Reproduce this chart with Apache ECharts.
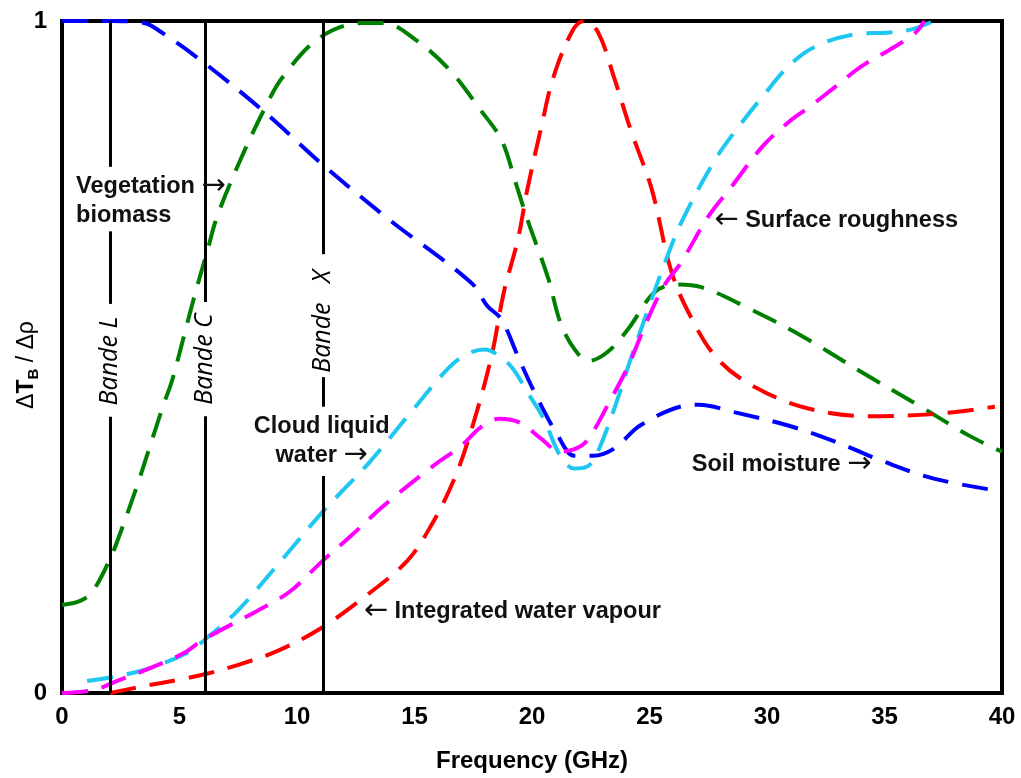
<!DOCTYPE html>
<html>
<head>
<meta charset="utf-8">
<script src="https://cdn.jsdelivr.net/npm/echarts@6/dist/echarts.min.js"></script>
<style>
  html, body { margin: 0; padding: 0; background: #fff; }
  #chart { width: 1021px; height: 778px; }
</style>
</head>
<body>
<div id="chart"></div>
<script>
// Frequency axis ticks (GHz) and sensitivity axis ticks
const xTicks = [0, 5, 10, 15, 20, 25, 30, 35, 40];
const yTicks = [0, 1];

// Soil moisture sensitivity
const soilFreq   = [0, 2.05, 3.5, 4.2, 6.0, 8.6, 11.1, 13.9, 17.4, 18.1, 18.7, 19.4, 20.1, 21.1, 21.8, 22.6, 23.5, 24.6, 26.4, 27.1, 28.6, 30.9, 32.9, 35.0, 37.1, 40];
const soilValues = [1.0, 1.0, 0.997, 0.984, 0.939, 0.865, 0.786, 0.705, 0.611, 0.576, 0.556, 0.501, 0.448, 0.383, 0.353, 0.353, 0.364, 0.398, 0.427, 0.429, 0.418, 0.398, 0.374, 0.344, 0.319, 0.30];

// Vegetation biomass sensitivity
const vegFreq   = [0, 0.77, 1.3, 2.05, 2.5, 3.2, 3.75, 4.3, 4.7, 5.6, 6.2, 6.6, 7.6, 8.6, 9.4, 11.0, 12.8, 13.7, 15.05, 16.5, 17.8, 18.7, 19.3, 19.8, 20.7, 21.2, 21.8, 22.4, 23.2, 24.1, 25.2, 26.1, 27.2, 29.3, 31.5, 34.0, 36.5, 38.6, 40];
const vegValues = [0.131, 0.137, 0.151, 0.2, 0.24, 0.309, 0.368, 0.427, 0.467, 0.586, 0.66, 0.709, 0.794, 0.868, 0.917, 0.976, 0.997, 0.997, 0.972, 0.927, 0.868, 0.823, 0.760, 0.705, 0.616, 0.552, 0.512, 0.494, 0.507, 0.542, 0.596, 0.608, 0.604, 0.571, 0.531, 0.478, 0.427, 0.383, 0.359];

// Integrated water vapour sensitivity
const vapourFreq   = [2.05, 3.45, 5.0, 6.2, 7.6, 9.2, 11.0, 12.8, 14.7, 15.8, 16.7, 17.4, 18.25, 18.8, 19.4, 19.8, 20.4, 20.9, 21.7, 22.2, 22.8, 23.5, 24.2, 25.1, 25.9, 26.65, 27.9, 29.6, 31.8, 34.3, 37.1, 39.7];
const vapourValues = [0, 0.010, 0.020, 0.029, 0.043, 0.063, 0.096, 0.141, 0.197, 0.255, 0.319, 0.389, 0.497, 0.596, 0.675, 0.749, 0.843, 0.915, 0.984, 1.0, 0.984, 0.915, 0.838, 0.749, 0.631, 0.567, 0.497, 0.453, 0.423, 0.412, 0.415, 0.426];

// Cloud liquid water sensitivity
const cloudFreq   = [1.07, 2.35, 3.75, 5.46, 6.0, 7.46, 9.4, 11.1, 13.1, 14.97, 16.4, 17.2, 18.0, 18.7, 19.2, 19.8, 20.5, 21.2, 21.8, 22.4, 22.8, 23.5, 24.2, 24.9, 25.6, 26.35, 27.8, 28.8, 29.8, 30.9, 32.0, 33.7, 35.2, 36.2, 37.1];
const cloudValues = [0.018, 0.025, 0.037, 0.062, 0.077, 0.122, 0.2, 0.27, 0.344, 0.423, 0.482, 0.504, 0.511, 0.499, 0.482, 0.448, 0.408, 0.353, 0.334, 0.338, 0.359, 0.423, 0.497, 0.567, 0.635, 0.700, 0.794, 0.843, 0.887, 0.932, 0.961, 0.980, 0.983, 0.988, 1.0];

// Surface roughness sensitivity
const roughFreq   = [0, 1.3, 2.35, 3.75, 5.16, 6.0, 7.16, 8.3, 9.7, 11.1, 12.3, 13.7, 15.8, 17.0, 17.8, 18.6, 19.5, 20.4, 21.2, 22.1, 22.6, 23.2, 24.1, 24.8, 25.6, 26.35, 27.5, 28.5, 29.8, 30.9, 31.8, 32.9, 34.0, 35.4, 36.3, 36.7];
const roughValues = [0, 0.004, 0.018, 0.037, 0.059, 0.079, 0.101, 0.122, 0.151, 0.197, 0.234, 0.279, 0.338, 0.368, 0.395, 0.408, 0.402, 0.378, 0.359, 0.368, 0.389, 0.427, 0.487, 0.546, 0.605, 0.641, 0.709, 0.754, 0.813, 0.849, 0.872, 0.902, 0.932, 0.961, 0.982, 1.0];

// Microwave bands: frequency, label, and visible line segments (gaps leave room for text)
const bandFreq   = [2.05, 6.1, 11.1];
const bandLabels = ['Bande L', 'Bande C', 'Bande   X'];
const bandLabelY = [0.494, 0.497, 0.553];
const bandSegments = [
  [[1, 0.783], [0.687, 0.579], [0.411, 0]],
  [[1, 0.582], [0.412, 0]],
  [[1, 0.653], [0.470, 0.426], [0.323, 0]]
];

// Curve annotations: text, anchor [GHz, value] at the first line's left/centre, alignment
const notes = [
  { text: 'Vegetation →\nbiomass', at: [0.6, 0.754], align: 'left' },
  { text: 'Cloud liquid\nwater →', at: [11.05, 0.396], align: 'center' },
  { text: '← Surface roughness', at: [27.76, 0.703], align: 'left' },
  { text: 'Soil moisture →', at: [26.8, 0.340], align: 'left' },
  { text: '← Integrated water vapour', at: [12.84, 0.122], align: 'left' }
];

const zip = (xs, ys) => xs.map((x, i) => [x, ys[i]]);

const curves = [
  { name: 'Soil moisture', freq: soilFreq, vals: soilValues, color: '#0000ff' },
  { name: 'Vegetation biomass', freq: vegFreq, vals: vegValues, color: '#008000' },
  { name: 'Integrated water vapour', freq: vapourFreq, vals: vapourValues, color: '#ff0000' },
  { name: 'Cloud liquid water', freq: cloudFreq, vals: cloudValues, color: '#1ec6f2' },
  { name: 'Surface roughness', freq: roughFreq, vals: roughValues, color: '#ff00ff' }
];

const chart = echarts.init(document.getElementById('chart'), null, { renderer: 'canvas' });

const sans = '"Liberation Sans", Arial, sans-serif';
const tickFont = { color: '#000', fontFamily: sans, fontWeight: 'bold', fontSize: 24 };

const bandLines = [];
bandFreq.forEach((f, i) => {
  bandSegments[i].forEach(seg => {
    bandLines.push([{ coord: [f, seg[0]] }, { coord: [f, seg[1]] }]);
  });
});

const series = curves.map(c => ({
  name: c.name,
  type: 'line',
  data: zip(c.freq, c.vals),
  smooth: 0.35,
  symbol: 'none',
  lineStyle: { color: c.color, width: 4, type: [26, 14], cap: 'butt' },
  z: 3
}));

series.push({
  name: 'bands',
  type: 'line',
  data: [],
  symbol: 'none',
  markLine: {
    silent: true,
    symbol: ['none', 'none'],
    label: { show: false },
    lineStyle: { color: '#000', width: 3, type: 'solid' },
    data: bandLines
  },
  z: 2
});

chart.setOption({
  animation: false,
  backgroundColor: '#fff',
  grid: { left: 62, right: 19, top: 21, bottom: 83, show: true, borderColor: '#000', borderWidth: 4, backgroundColor: 'transparent' },
  xAxis: {
    type: 'value', min: 0, max: 40, interval: 5,
    axisLine: { show: true, lineStyle: { color: '#000', width: 4 } },
    axisTick: { show: false },
    splitLine: { show: false },
    axisLabel: Object.assign({ margin: 12, formatter: v => xTicks.includes(v) ? String(v) : '' }, tickFont),
    name: 'Frequency (GHz)',
    nameLocation: 'middle',
    nameGap: 56,
    nameTextStyle: { color: '#000', fontFamily: sans, fontWeight: 'bold', fontSize: 24 }
  },
  yAxis: {
    type: 'value', min: 0, max: 1, interval: 1,
    axisLine: { show: true, lineStyle: { color: '#000', width: 4 } },
    axisTick: { show: false },
    splitLine: { show: false },
    axisLabel: Object.assign({ margin: 15, formatter: v => yTicks.includes(v) ? String(v) : '' }, tickFont)
  },
  series: series
});

// Text placed from data coordinates once the scales exist
const px = (f, v) => chart.convertToPixel({ gridIndex: 0 }, [f, v]);
const noteLine = 29;
const noteRich = {
  t: { fontFamily: sans, fontWeight: 'bold', fontSize: 23.5, fill: '#111', lineHeight: noteLine },
  r: { fontFamily: '"DejaVu Sans", sans-serif', fontSize: 29, fill: '#111', lineHeight: noteLine }
};
// wrap words and arrows in their own rich-text styles
const toRich = s => s.split('\n').map(line =>
  line.split(/([←→])/).filter(p => p).map(p => /[←→]/.test(p) ? `{r|${p}}` : `{t|${p}}`).join('')
).join('\n');

const graphics = [];

notes.forEach(n => {
  const p = px(n.at[0], n.at[1]);
  graphics.push({
    type: 'text', x: p[0], y: p[1] - noteLine / 2, z: 10,
    style: { text: toRich(n.text), rich: noteRich, align: n.align, verticalAlign: 'top' }
  });
});

bandFreq.forEach((f, i) => {
  const p = px(f, bandLabelY[i]);
  graphics.push({
    type: 'text', x: p[0], y: p[1], rotation: Math.PI / 2, z: 10,
    style: { text: bandLabels[i], font: 'italic 25px "Open Sans", sans-serif', fill: '#000', align: 'center', verticalAlign: 'middle' }
  });
});

// Y axis title: ΔT_B / Δρ
const grid = chart.getModel().getComponent('grid').coordinateSystem.getRect();
graphics.push({
  type: 'text', x: 27, y: grid.y + grid.height / 2 + 8, rotation: Math.PI / 2, z: 10,
  style: {
    text: '{d|Δ}{t|T}{s|B}{d| / Δρ}',
    align: 'center', verticalAlign: 'middle', fill: '#000',
    rich: {
      d: { fontFamily: sans, fontSize: 23, fill: '#000', lineHeight: 28 },
      t: { fontFamily: sans, fontWeight: 'bold', fontSize: 23, fill: '#000', lineHeight: 28 },
      s: { fontFamily: sans, fontWeight: 'bold', fontSize: 15, fill: '#000', verticalAlign: 'bottom', lineHeight: 28 }
    }
  }
});

chart.setOption({ graphic: graphics });
</script>
</body>
</html>
